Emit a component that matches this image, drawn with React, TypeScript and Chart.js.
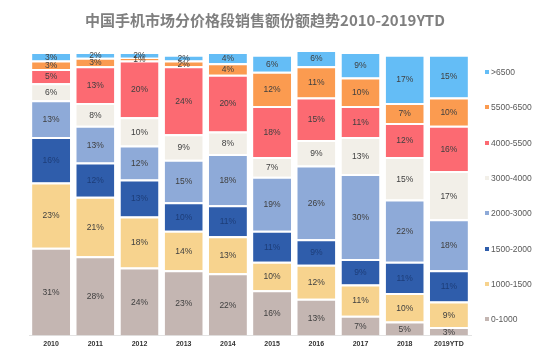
import React, { useEffect, useRef } from "react";
import { Chart, registerables } from "chart.js";

Chart.register(...registerables);

const TITLE = "中国手机市场分价格段销售额份额趋势2010-2019YTD";
const years = ["2010", "2011", "2012", "2013", "2014", "2015", "2016", "2017", "2018", "2019YTD"];

// bottom to top
const band0_1000 = [31, 28, 24, 23, 22, 16, 13, 7, 5, 3];
const band1000_1500 = [23, 21, 18, 14, 13, 10, 12, 11, 10, 9];
const band1500_2000 = [16, 12, 13, 10, 11, 11, 9, 9, 11, 11];
const band2000_3000 = [13, 13, 12, 15, 18, 19, 26, 30, 22, 18];
const band3000_4000 = [6, 8, 10, 9, 8, 7, 9, 13, 15, 17];
const band4000_5500 = [5, 13, 20, 24, 20, 18, 15, 11, 12, 16];
const band5500_6500 = [3, 3, 1, 2, 4, 12, 11, 10, 7, 10];
const bandOver6500 = [3, 2, 2, 2, 4, 6, 6, 9, 17, 15];

const seriesNames = ["0-1000", "1000-1500", "1500-2000", "2000-3000", "3000-4000", "4000-5500", "5500-6500", ">6500"];
const seriesValues = [band0_1000, band1000_1500, band1500_2000, band2000_3000, band3000_4000, band4000_5500, band5500_6500, bandOver6500];
const seriesColors = ["#c4b6b2", "#f7d38e", "#2f5dab", "#8eaad8", "#f2efe8", "#fc6a72", "#fb9b50", "#64bdf6"];
const labelColors = ["#404040", "#404040", "#1d3d78", "#404040", "#404040", "#404040", "#404040", "#404040"];

const labelPlugin = {
  id: "segLabels",
  afterDatasetsDraw(chart: any) {
    const ctx = chart.ctx;
    ctx.save();
    ctx.font = "8.5px 'Liberation Sans', Arial, sans-serif";
    ctx.textAlign = "center";
    ctx.textBaseline = "middle";
    chart.data.datasets.forEach((ds: any, di: number) => {
      const meta = chart.getDatasetMeta(di);
      meta.data.forEach((el: any, i: number) => {
        const { x, y, base } = el.getProps(["x", "y", "base"], true);
        ctx.fillStyle = labelColors[di];
        ctx.fillText(ds.data[i] + "%", x, (y + base) / 2 + 1);
      });
    });
    ctx.restore();
  },
};

export default function App() {
  const ref = useRef<HTMLCanvasElement>(null);
  useEffect(() => {
    document.body.style.margin = "0";
    const chart = new Chart(ref.current!, {
      type: "bar",
      data: {
        labels: years,
        datasets: seriesNames.map((n, i) => ({
          label: n,
          data: seriesValues[i],
          backgroundColor: seriesColors[i],
          borderColor: "#ffffff",
          borderWidth: { top: 2, bottom: 0, left: 0, right: 0 },
          borderSkipped: false,
          barPercentage: 0.86,
          categoryPercentage: 1,
        })),
      },
      options: {
        animation: false,
        responsive: true,
        maintainAspectRatio: false,
        layout: { padding: { left: 29, right: 78, top: 52, bottom: 5 } },
        plugins: { legend: { display: false }, title: { display: false }, tooltip: { enabled: false } },
        scales: {
          x: {
            stacked: true,
            grid: { display: false, drawTicks: false },
            border: { display: true, color: "#e3e3e3" },
            ticks: { color: "#333", font: { size: 7, weight: "bold", family: "'Liberation Sans', Arial, sans-serif" }, padding: 4, autoSkip: false, maxRotation: 0 },
          },
          y: { stacked: true, display: false, min: 0, max: 100 },
        },
      },
      plugins: [labelPlugin],
    });
    return () => chart.destroy();
  }, []);

  const legendOrder = seriesNames.map((_, i) => seriesNames.length - 1 - i);
  return (
    <div style={{ position: "relative", width: 549, height: 357, background: "#fff" }}>
      <canvas ref={ref} />
      <div
        style={{
          position: "absolute",
          left: 0,
          top: 10,
          width: 530,
          textAlign: "center",
          fontFamily: "'Noto Sans CJK SC', sans-serif",
          fontWeight: "bold",
          fontSize: 15,
          lineHeight: "20px",
          color: "#7f7f7f",
        }}
      >
        {TITLE}
      </div>
      {legendOrder.map((si, k) => (
        <div
          key={si}
          style={{
            position: "absolute",
            left: 485,
            top: 72 + k * 35.3 - 6,
            height: 12,
            display: "flex",
            alignItems: "center",
            fontFamily: "'Liberation Sans', Arial, sans-serif",
            fontSize: 8.5,
            color: "#595959",
            whiteSpace: "nowrap",
          }}
        >
          <span style={{ display: "inline-block", width: 4, height: 4, background: seriesColors[si], marginRight: 2 }} />
          {seriesNames[si]}
        </div>
      ))}
    </div>
  );
}
